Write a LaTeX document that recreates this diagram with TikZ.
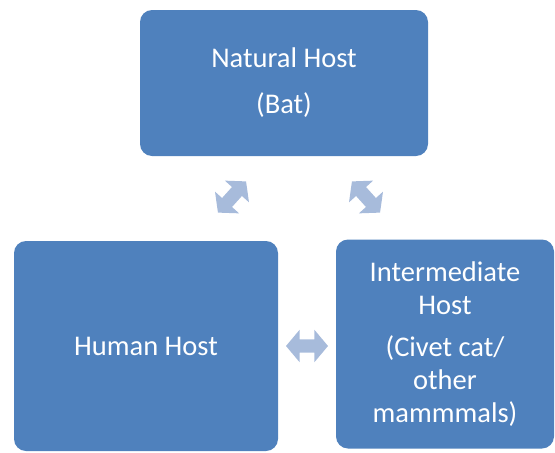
\documentclass[tikz,border=0pt]{standalone}
\usepackage{fontspec}
\setmainfont{Carlito}
\usepackage{xcolor}
\usetikzlibrary{shapes.arrows}

\definecolor{hostblue}{RGB}{79,129,189}
\definecolor{cycleblue}{RGB}{167,187,219}

\begin{document}
\begin{tikzpicture}[x=1pt,y=-1pt,
  hostbox/.style={fill=hostblue, rounded corners=12pt, text=white, align=center,
    inner sep=0pt, font=\fontsize{28.5}{33}\selectfont},
  cyclearrow/.style={double arrow, fill=cycleblue, inner sep=6.5pt, minimum height=42pt,
    double arrow head extend=9.5pt, double arrow tip angle=100}]

\useasboundingbox (0,0) rectangle (555,453);

\node [hostbox, minimum width=288pt, minimum height=146pt] (natural) at (284,83) {Natural Host\\[13pt](Bat)};
\node [hostbox, minimum width=264pt, minimum height=210pt] (human) at (146,346) {Human Host};
\node [hostbox, minimum width=218pt, minimum height=209pt] (intermediate) at (445,344) {Intermediate\\Host\\[9pt](Civet cat/\\other\\mammmals)};

\node [cyclearrow, rotate=48] (humannatural) at (232,197) {};
\node [cyclearrow, rotate=-48] (naturalinter) at (366,197) {};
\node [cyclearrow] (interhuman) at (307,346) {};

\end{tikzpicture}
\end{document}
